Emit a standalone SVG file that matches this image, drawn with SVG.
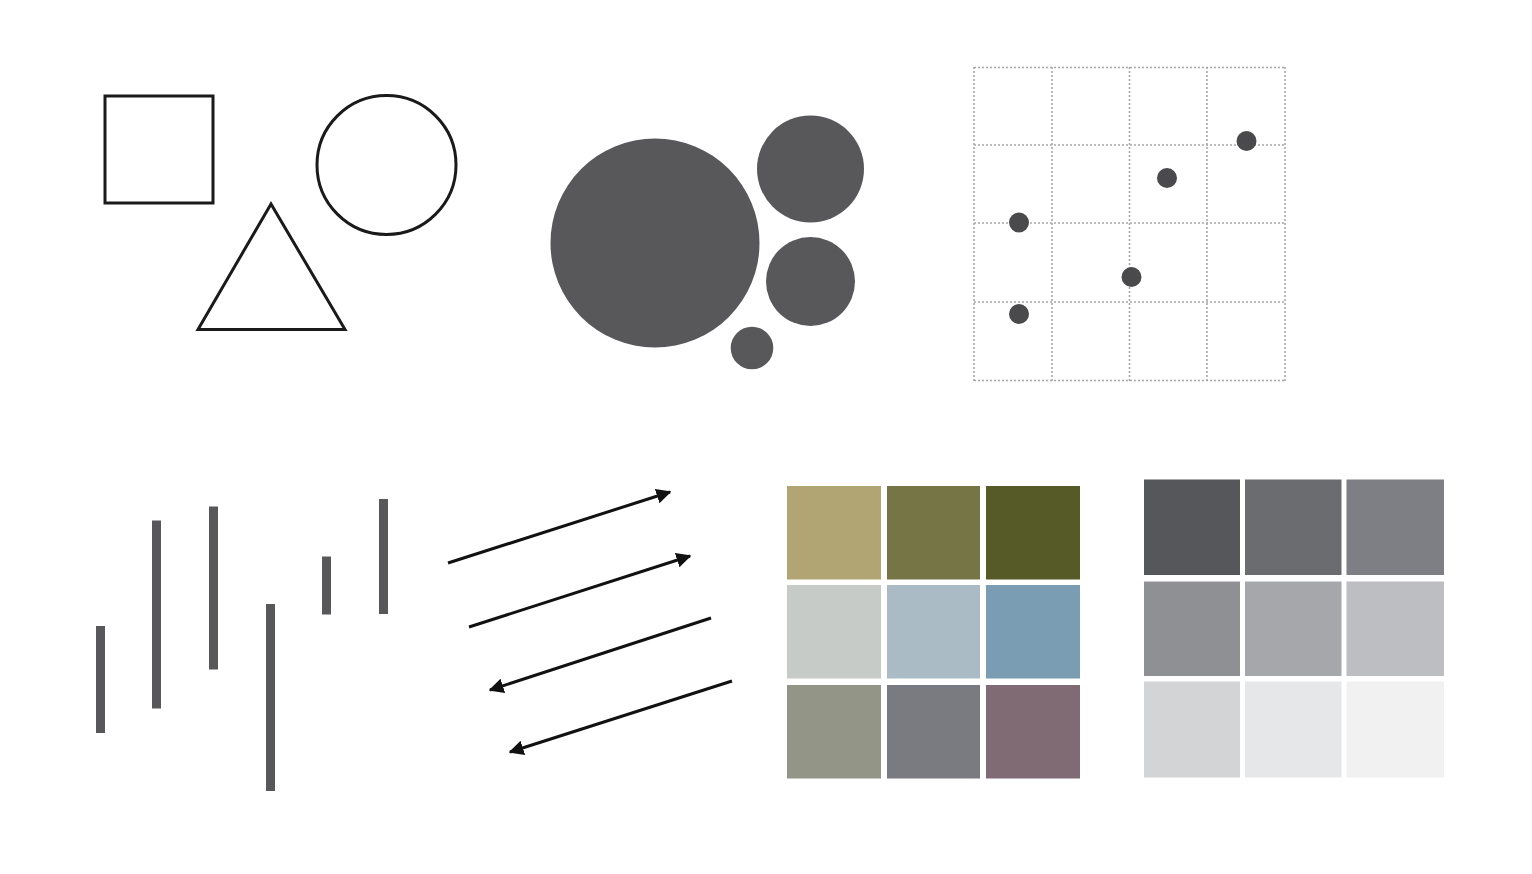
<svg xmlns="http://www.w3.org/2000/svg" width="1532" height="874" viewBox="0 0 1532 874">
<defs>
<style>
.outline{fill:none;stroke:#1a1a1a;stroke-width:3}
.blob{fill:#58585b}
.bar{fill:#58585b}
.grid{stroke:#a8a8a8;stroke-width:1.6;stroke-dasharray:2 2;fill:none}
.dot{fill:#4a4a4c}
.arrow{stroke:#111;stroke-width:3;fill:none;marker-end:url(#ah)}
</style>
<marker id="ah" viewBox="0 0 10 10" refX="9" refY="5" markerWidth="5" markerHeight="5" orient="auto" markerUnits="strokeWidth">
<path d="M0,0 L10,5 L0,10 Z" fill="#111"/>
</marker>
</defs>
<rect width="1532" height="874" fill="#ffffff"/>
<g id="outline-shapes">
<rect id="square" class="outline" x="105" y="96" width="108" height="107"/>
<circle id="ring" class="outline" cx="386.5" cy="165" r="69.5"/>
<polygon id="triangle" class="outline" points="271,204 198,329.5 345,329.5"/>
</g>
<g id="filled-circles">
<circle class="blob" cx="655" cy="243" r="104.5"/>
<circle class="blob" cx="810.5" cy="169" r="53.5"/>
<circle class="blob" cx="810.5" cy="281.5" r="44.5"/>
<circle class="blob" cx="752" cy="348" r="21.3"/>
</g>
<g id="dot-grid">
<g class="grid">
<line x1="974" y1="67" x2="974" y2="381"/>
<line x1="1052" y1="67" x2="1052" y2="381"/>
<line x1="1129.5" y1="67" x2="1129.5" y2="381"/>
<line x1="1207" y1="67" x2="1207" y2="381"/>
<line x1="1285" y1="67" x2="1285" y2="381"/>
<line x1="974" y1="67.5" x2="1285" y2="67.5"/>
<line x1="974" y1="145" x2="1285" y2="145"/>
<line x1="974" y1="223" x2="1285" y2="223"/>
<line x1="974" y1="302" x2="1285" y2="302"/>
<line x1="974" y1="380.5" x2="1285" y2="380.5"/>
</g>
<circle class="dot" cx="1246.5" cy="141" r="10"/>
<circle class="dot" cx="1167" cy="178" r="10"/>
<circle class="dot" cx="1019" cy="222.5" r="10"/>
<circle class="dot" cx="1131.5" cy="277" r="10"/>
<circle class="dot" cx="1019" cy="314" r="10"/>
</g>
<g id="bars">
<rect class="bar" x="96" y="626" width="9" height="107"/>
<rect class="bar" x="152" y="520.5" width="9" height="188"/>
<rect class="bar" x="209" y="506.5" width="9" height="163"/>
<rect class="bar" x="266" y="604" width="9" height="187"/>
<rect class="bar" x="322" y="556.5" width="9" height="58"/>
<rect class="bar" x="379" y="499" width="9" height="115"/>
</g>
<g id="connectors">
<line class="arrow" x1="448" y1="563" x2="670" y2="492"/>
<line class="arrow" x1="469" y1="627" x2="690" y2="556"/>
<line class="arrow" x1="711" y1="618" x2="490" y2="690"/>
<line class="arrow" x1="732" y1="681" x2="510" y2="752"/>
</g>
<g id="colour-swatches">
<rect x="787" y="486" width="94" height="93.5" fill="#b1a573"/>
<rect x="887" y="486" width="93" height="93.5" fill="#757545"/>
<rect x="986" y="486" width="94" height="93.5" fill="#555a27"/>
<rect x="787" y="585" width="94" height="93.5" fill="#c6cbc7"/>
<rect x="887" y="585" width="93" height="93.5" fill="#aabbc6"/>
<rect x="986" y="585" width="94" height="93.5" fill="#7b9db4"/>
<rect x="787" y="685" width="94" height="93.5" fill="#939687"/>
<rect x="887" y="685" width="93" height="93.5" fill="#7a7b80"/>
<rect x="986" y="685" width="94" height="93.5" fill="#806b74"/>
</g>
<g id="grey-swatches">
<rect x="1144" y="479.5" width="96" height="95.5" fill="#56575a"/>
<rect x="1245" y="479.5" width="96.5" height="95.5" fill="#6b6c70"/>
<rect x="1346.5" y="479.5" width="97.5" height="95.5" fill="#7e7f84"/>
<rect x="1144" y="581.5" width="96" height="94.5" fill="#8f9094"/>
<rect x="1245" y="581.5" width="96.5" height="94.5" fill="#a6a7aa"/>
<rect x="1346.5" y="581.5" width="97.5" height="94.5" fill="#bdbec2"/>
<rect x="1144" y="681.5" width="96" height="96" fill="#d3d4d6"/>
<rect x="1245" y="681.5" width="96.5" height="96" fill="#e6e7e8"/>
<rect x="1346.5" y="681.5" width="97.5" height="96" fill="#f1f1f1"/>
</g>
</svg>
